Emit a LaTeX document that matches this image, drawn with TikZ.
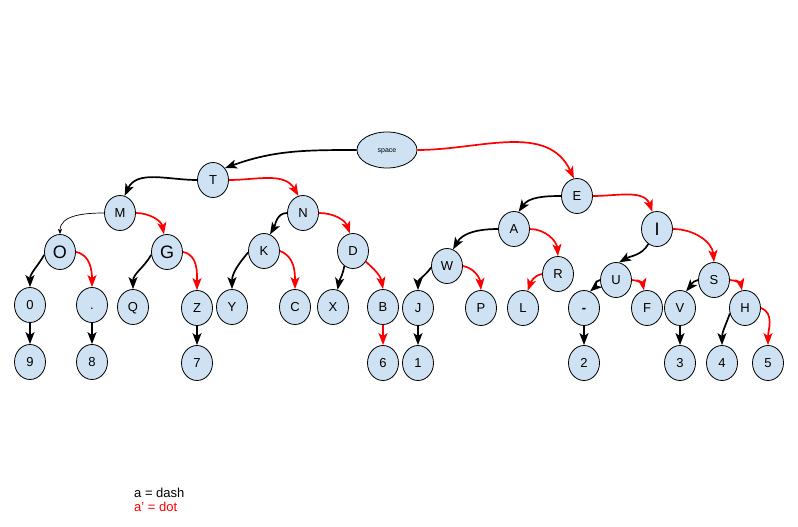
\documentclass[tikz,border=0pt]{standalone}
\usepackage{fontspec}
\setmainfont{Liberation Sans}
\usetikzlibrary{shapes.geometric,arrows.meta}
\definecolor{nodefill}{RGB}{207,226,243}
\definecolor{dotred}{RGB}{255,0,0}
\tikzset{
  letter/.style={ellipse,draw=black,line width=0.8pt,fill=nodefill,
    minimum width=31pt,minimum height=35pt,inner sep=0pt,
    text height=9.3pt,text depth=0pt,
    font=\fontsize{13}{15}\selectfont},
  bigletter/.style={letter,text height=12.9pt,font=\fontsize{18}{20}\selectfont},
  rootnode/.style={letter,minimum width=60pt,minimum height=36pt,
    text height=5pt,font=\fontsize{7}{8}\selectfont},
  dashedge/.style={draw=black,line width=1.7pt,
    -{Stealth[length=12pt,width=9pt,inset=3pt]}},
  thinedge/.style={draw=black,line width=0.7pt,
    -{Stealth[length=5pt,width=4pt,inset=1pt]}},
  dotedge/.style={draw=dotred,line width=1.7pt,
    -{Stealth[length=12pt,width=9pt,inset=3pt]}},
}
\begin{document}
\begin{tikzpicture}[x=1pt,y=-1pt]
\useasboundingbox (0,0) rectangle (798,527);
% root
\node[rootnode] (sp) at (387,150) {space};
% level 1
\node[letter] (T) at (213,180) {T};
\node[letter] (E) at (577,196) {E};
% T subtree
\node[letter] (M) at (120,213) {M};
\node[letter] (N) at (303,213) {N};
\node[bigletter] (O) at (60,252) {O};
\node[bigletter] (G) at (167,252) {G};
\node[letter] (K) at (264,251) {K};
\node[letter] (D) at (353,251) {D};
\node[letter] (n0) at (30,305) {0};
\node[letter] (dot) at (92,305) {.};
\node[letter] (Q) at (133,307) {Q};
\node[letter] (Z) at (197,308) {Z};
\node[letter] (Y) at (232,307) {Y};
\node[letter] (C) at (295,307) {C};
\node[letter] (X) at (333,307) {X};
\node[letter] (B) at (383,307) {B};
\node[letter] (n9) at (30,362) {9};
\node[letter] (n8) at (92,362) {8};
\node[letter] (n7) at (197,363) {7};
\node[letter] (n6) at (383,363) {6};
% E subtree
\node[letter] (A) at (514,229) {A};
\node[bigletter] (I) at (657,229) {I};
\node[letter] (W) at (447,266) {W};
\node[letter] (R) at (558,274) {R};
\node[letter] (U) at (616,280) {U};
\node[letter] (S) at (714,280) {S};
\node[letter] (J) at (418,308) {J};
\node[letter] (P) at (481,308) {P};
\node[letter] (L) at (523,308) {L};
\node[letter] (dash) at (584,308) {\textbf{-}};
\node[letter] (F) at (647,308) {F};
\node[letter] (V) at (680,308) {V};
\node[letter] (H) at (745,308) {H};
\node[letter] (n1) at (418,363) {1};
\node[letter] (n2) at (584,363) {2};
\node[letter] (n3) at (680,363) {3};
\node[letter] (n4) at (722,363) {4};
\node[letter] (n5) at (768,363) {5};

% dash (left) branches
\draw[dashedge] (sp.west) to[out=180,in=20] (T.45);
\draw[dashedge] (T.west) to[out=180,in=65] (M.75);
\draw[thinedge] (M.west) to[out=180,in=90] (O.north);
\draw[dashedge] (O.190) to[out=240,in=90] (n0.north);
\draw[dashedge] (G.190) to[out=240,in=90] (Q.north);
\draw[dashedge] (N.west) to[out=180,in=60] (K.70);
\draw[dashedge] (K.185) to[out=230,in=90] (Y.north);
\draw[dashedge] (D.240) to[out=260,in=80] (X.75);
\draw[dashedge] (n0.south) -- (n9.north);
\draw[dashedge] (dot.south) -- (n8.north);
\draw[dashedge] (Z.south) -- (n7.north);
\draw[dashedge] (E.west) to[out=180,in=55] (A.75);
\draw[dashedge] (A.west) to[out=180,in=60] (W.70);
\draw[dashedge] (W.185) to[out=235,in=90] (J.north);
\draw[dashedge] (J.south) -- (n1.north);
\draw[dashedge] (I.240) to[out=240,in=30] (U.80);
\draw[dashedge] (U.west) to[out=190,in=40] (dash.70);
\draw[dashedge] (dash.south) -- (n2.north);
\draw[dashedge] (S.west) to[out=190,in=50] (V.70);
\draw[dashedge] (V.south) -- (n3.north);
\draw[dashedge] (H.200) to[out=250,in=90] (n4.north);

% dot (right) branches
\draw[dotedge] (sp.east) to[out=0,in=115] (E.100);
\draw[dotedge] (T.east) to[out=0,in=120] (N.105);
\draw[dotedge] (M.east) to[out=0,in=100] (G.100);
\draw[dotedge] (O.east) to[out=-10,in=90] (dot.north);
\draw[dotedge] (G.east) to[out=-10,in=90] (Z.north);
\draw[dotedge] (N.east) to[out=0,in=110] (D.100);
\draw[dotedge] (K.east) to[out=-20,in=90] (C.north);
\draw[dotedge] (D.-40) to[out=-40,in=100] (B.north);
\draw[dotedge] (B.south) -- (n6.north);
\draw[dotedge] (E.east) to[out=0,in=110] (I.105);
\draw[dotedge] (A.east) to[out=0,in=95] (R.north);
\draw[dotedge] (W.east) to[out=-10,in=95] (P.north);
\draw[dotedge] (R.west) to[out=190,in=70] (L.75);
\draw[dotedge] (I.east) to[out=0,in=95] (S.north);
\draw[dotedge] (U.east) to[out=0,in=100] (F.100);
\draw[dotedge] (S.east) to[out=0,in=100] (H.100);
\draw[dotedge] (H.east) to[out=-20,in=90] (n5.north);

% key
\node[anchor=base west,inner sep=0pt,font=\fontsize{13}{15}\selectfont]
  (key1) at (134,497) {a = dash};
\node[anchor=base west,inner sep=0pt,text=dotred,font=\fontsize{13}{15}\selectfont]
  (key2) at (134,511) {a' = dot};
\end{tikzpicture}
\end{document}
